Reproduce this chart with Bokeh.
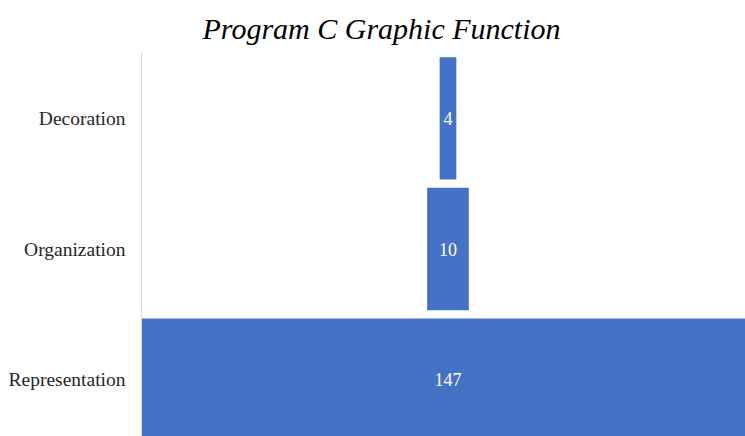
from bokeh.plotting import figure
from bokeh.models import ColumnDataSource, FixedTicker, Range1d, Title
from bokeh.core.properties import value
from bokeh.embed import file_html
from bokeh.resources import INLINE

categories = ["Representation", "Organization", "Decoration"]
counts = [147, 10, 4]
value_labels = ["147", "10", "4"]

ypos = list(range(len(categories)))
src = ColumnDataSource(dict(
    y=ypos,
    left=[-c / 2 for c in counts],
    right=[c / 2 for c in counts],
    x=[0] * len(counts),
    label=value_labels,
))

half = max(counts) / 2
p = figure(width=745, height=436, output_backend="svg", toolbar_location=None,
           x_range=Range1d(-half, -half + 604 / 4.17),
           y_range=Range1d(-0.434, 2.504),
           x_axis_location=None, title=None,
           min_border_left=141, min_border_right=0, min_border_top=52, min_border_bottom=0)

p.hbar(y="y", left="left", right="right", height=0.937, source=src,
       fill_color="#4472C4", line_color="#4472C4", line_width=0)
p.text(x="x", y="y", text="label", source=src, text_color="white",
       text_font=value("Liberation Serif"), text_font_size="18px",
       text_align="center", text_baseline="middle")

p.yaxis.ticker = FixedTicker(ticks=ypos)
p.yaxis.major_label_overrides = {i: c for i, c in zip(ypos, categories)}
p.yaxis.major_label_text_font = "Liberation Serif"
p.yaxis.major_label_text_font_size = "19.5px"
p.yaxis.major_label_text_color = "#262626"
p.yaxis.major_tick_line_color = None
p.yaxis.minor_tick_line_color = None
p.yaxis.major_label_standoff = 10
p.yaxis.axis_line_color = "#d9d9d9"
p.yaxis.axis_line_width = 1

p.xgrid.visible = False
p.ygrid.visible = False
p.outline_line_color = None

t = Title(text="Program C Graphic Function", align="left", offset=61,
          text_font="Liberation Serif", text_font_style="italic",
          text_font_size="30px", text_color="black", standoff=15)
p.add_layout(t, "above")

open("out.html", "w").write(file_html(p, INLINE))
